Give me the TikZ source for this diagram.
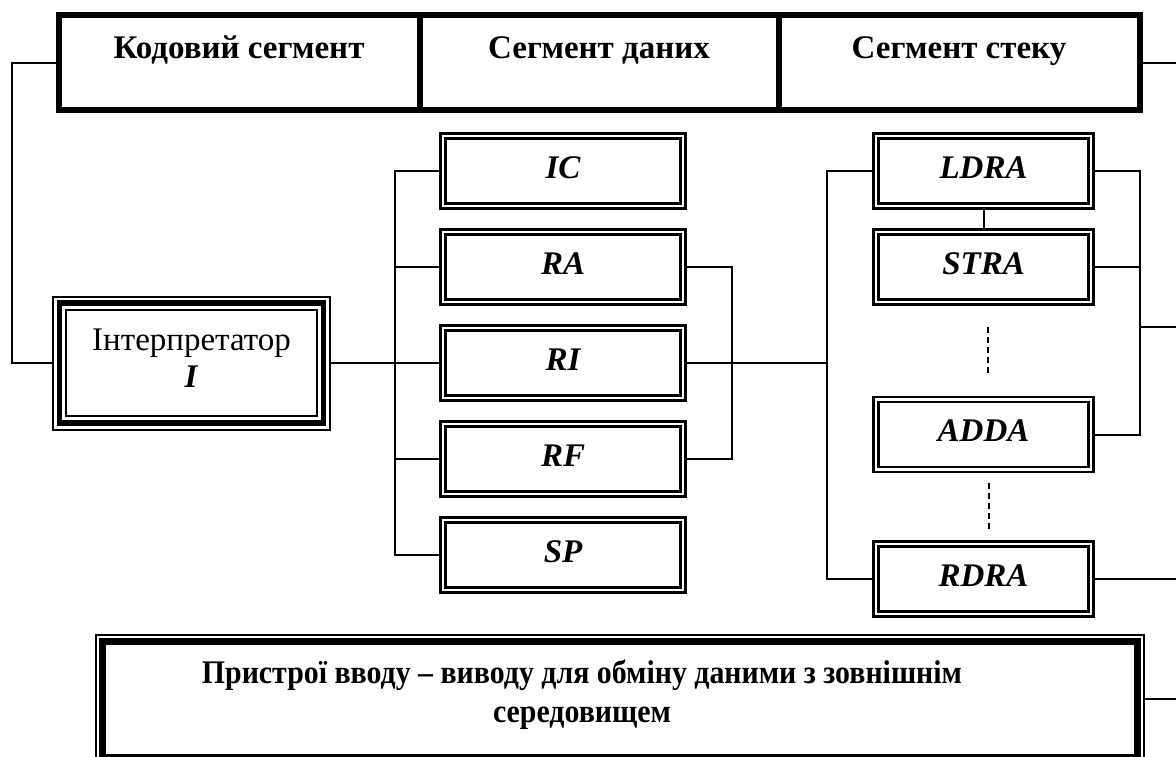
\documentclass[tikz,border=0pt]{standalone}
\usepackage{fontspec}
\setmainfont{Liberation Serif}
\newfontfamily\narrowserif[FakeStretch=0.905]{Liberation Serif}
\usetikzlibrary{calc}
\begin{document}
\begin{tikzpicture}[x=0.5pt,y=-0.5pt,
  wire/.style={line width=1pt},
  gapline/.style={line width=1pt, dash pattern=on 3pt off 2pt},
  segbox/.style={draw, line width=3pt, minimum height=47.5pt, inner sep=0pt,
    text height=11pt, text depth=15.5pt, font=\fontsize{16.5}{18.5}\selectfont\bfseries},
  regbox/.style={draw, double=white, line width=1.4pt, double distance=1.15pt,
    outer sep=1.975pt, minimum width=120pt, minimum height=35pt, inner sep=0pt,
    text height=12pt, text depth=5pt, font=\fontsize{16.5}{18.5}\selectfont\bfseries\itshape},
  stackbox/.style={regbox, minimum width=107.5pt},
  intbox/.style={draw, line width=2.85pt, outer sep=3.775pt,
    preaction={draw, double=white, line width=1pt, double distance=5.55pt},
    minimum width=131.95pt, minimum height=59.95pt, inner sep=0pt,
    text height=12pt, text depth=24.5pt, font=\fontsize{16.5}{18.5}\selectfont},
  iobox/.style={draw, line width=3.5pt, minimum width=517.25pt, minimum height=58pt, inner sep=0pt},
  iotext/.style={inner sep=0pt, text height=12pt, text depth=31.5pt,
    font=\narrowserif\fontsize{16.5}{19.5}\selectfont\bfseries}
]
\useasboundingbox (0,0) rectangle (1176,756);

% memory segments
\node[segbox, minimum width=180.5pt] (seg1) at (239,62.5) {Кодовий сегмент};
\node[segbox, minimum width=179.5pt] (seg2) at (599,62.5) {Сегмент даних};
\node[segbox, minimum width=180.5pt] (seg3) at (959,62.5) {Сегмент стеку};

% interpreter
\node[intbox] (intp) at (191.5,363)
  {\begin{tabular}[t]{@{}c@{}}Інтерпретатор\\\textbf{\textit{I}}\end{tabular}};

% registers
\node[regbox] (IC) at (563,171) {IC};
\node[regbox] (RA) at (563,267) {RA};
\node[regbox] (RI) at (563,363) {RI};
\node[regbox] (RF) at (563,459) {RF};
\node[regbox] (SP) at (563,555) {SP};

% stack instructions
\node[stackbox] (LDRA) at (983.5,171) {LDRA};
\node[stackbox] (STRA) at (983.5,267) {STRA};
\node[stackbox] (ADDA) at (983.5,434.5) {ADDA};
\node[stackbox] (RDRA) at (983.5,579) {RDRA};

% input / output devices
\node[iobox] (io) at (619.75,699) {};
\draw[line width=1pt] ([shift={(-1.5pt,1.5pt)}]io.north west) rectangle ([shift={(1.5pt,-1.5pt)}]io.south east);
\node[iotext] (iolabel) at (582,702.5)
  {\begin{tabular}[t]{@{}c@{}}Пристрої вводу – виводу для обміну даними з зовнішнім\\середовищем\end{tabular}};

% bus positions
\coordinate (left) at (12,0);
\coordinate (busL) at (395,0);
\coordinate (busR) at (732,0);
\coordinate (busS) at (827,0);
\coordinate (busT) at (1140,0);
\coordinate (tap) at (1140,327);
\coordinate (edge) at (1180,0);

% connections
\draw[wire] (seg1.west) -- (seg1.west -| left) |- (intp.west);
\draw[wire] (seg3.east) -- (seg3.east -| edge);
\draw[wire] (intp.east) -- (RI.west);
\draw[wire] (IC.west) -- (IC.west -| busL) -- (SP.west -| busL) -- (SP.west);
\draw[wire] (RA.west) -- (RA.west -| busL);
\draw[wire] (RF.west) -- (RF.west -| busL);
\draw[wire] (RA.east) -- (RA.east -| busR) -- (RF.east -| busR) -- (RF.east);
\draw[wire] (RI.east) -- (RI.east -| busS);
\draw[wire] (LDRA.west) -- (LDRA.west -| busS) -- (RDRA.west -| busS) -- (RDRA.west);
\draw[wire] (LDRA.south) -- (STRA.north);
\draw[wire] (LDRA.east) -- (LDRA.east -| busT) -- (ADDA.east -| busT) -- (ADDA.east);
\draw[wire] (STRA.east) -- (STRA.east -| busT);
\draw[wire] (tap) -- (tap -| edge);
\draw[wire] (RDRA.east) -- (RDRA.east -| edge);
\draw[wire] (io.east) ++(2pt,0) -- (io.east -| edge);

% elided entries of the stack column
\draw[gapline] ([xshift=2pt,yshift=-10.5pt]STRA.south) -- ([xshift=2pt,yshift=10.5pt]ADDA.north);
\draw[gapline] ([xshift=2.5pt,yshift=-5pt]ADDA.south) -- ([xshift=2.5pt,yshift=4.5pt]RDRA.north);
\end{tikzpicture}
\end{document}
